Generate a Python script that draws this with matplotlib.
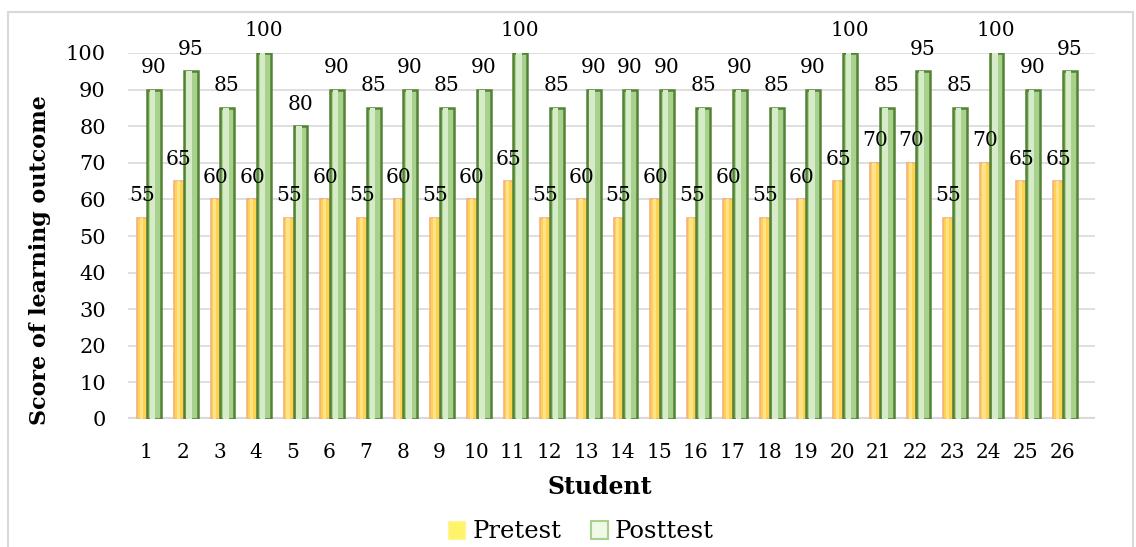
import matplotlib.pyplot as plt
import numpy as np
from matplotlib.patches import Patch, Rectangle

students = [str(i) for i in range(1, 27)]
pretest = [55, 65, 60, 60, 55, 60, 55, 60, 55, 60, 65, 55, 60,
           55, 60, 55, 60, 55, 60, 65, 70, 70, 55, 70, 65, 65]
posttest = [90, 95, 85, 100, 80, 90, 85, 90, 85, 90, 100, 85, 90,
            90, 90, 85, 90, 85, 90, 100, 85, 95, 85, 100, 90, 95]
yticks = list(range(0, 101, 10))

plt.rcParams['font.family'] = ['DejaVu Serif']

fig = plt.figure(figsize=(11.36, 5.47), dpi=100)
ax = fig.add_axes([128 / 1136, 1 - 419 / 547, (1095 - 128) / 1136, (419 - 53) / 547])

x = np.arange(len(students))

# gridlines + floor
for v in yticks:
    ax.axhline(v, color='#D9D9D9', lw=1.2, zorder=0)
ax.axhline(0, color='#D9D9D9', lw=3, zorder=0)

# pretest bars (behind, left)
ax.bar(x - 0.11, pretest, width=0.27, color='#FFD34E', edgecolor='#F4B183',
       lw=1.2, zorder=2)
ax.bar(x - 0.13, pretest, width=0.09, color='#FFE38A', lw=0, zorder=2)

# posttest bars (front, right)
ax.bar(x + 0.21, posttest, width=0.38, color='#A9D18E', edgecolor='#548235',
       lw=1.8, zorder=3)
ax.bar(x + 0.17, posttest, width=0.15, color='#D6EBC8', lw=0, zorder=3)

for xi, v in zip(x, pretest):
    ax.annotate(str(v), (xi - 0.11, v), xytext=(0, 9), textcoords='offset points',
                ha='center', va='bottom', fontsize=14.5, zorder=5)
for xi, v in zip(x, posttest):
    ax.annotate(str(v), (xi + 0.2, v), xytext=(0, 9), textcoords='offset points',
                ha='center', va='bottom', fontsize=14.5, zorder=5)

ax.set_xlim(-0.5, 25.9)
ax.set_ylim(0, 100)
ax.set_yticks(yticks)
ax.set_xticks(x)
ax.set_xticklabels(students)
ax.tick_params(axis='y', length=0, pad=16, labelsize=15)
ax.tick_params(axis='x', length=0, pad=17, labelsize=14.5)
for s in ax.spines.values():
    s.set_visible(False)

fig.text(40 / 1136, 0.525, 'Score of learning outcome', rotation=90,
         ha='center', va='center', fontsize=16, fontweight='bold')
fig.text(600 / 1136, 1 - 487 / 547, 'Student', ha='center', va='center',
         fontsize=17, fontweight='bold')

handles = [Patch(facecolor='#FFF36B', edgecolor='#FFF59D', label='Pretest'),
           Patch(facecolor='#F0F8E6', edgecolor='#A9D18E', lw=1.5, label='Posttest')]
fig.legend(handles=handles, loc='center', bbox_to_anchor=(581 / 1136, 1 - 532 / 547),
           ncol=2, frameon=False, fontsize=17.5, handlelength=0.7, handleheight=0.7,
           handletextpad=0.3, columnspacing=1.2, borderpad=0)

fig.patches.append(Rectangle((8 / 1136, -0.05), (1133 - 8) / 1136, 1.05 - 12 / 547,
                             transform=fig.transFigure, fill=False,
                             edgecolor='#D9D9D9', lw=1.5))

fig.savefig('out.png', dpi=100)
